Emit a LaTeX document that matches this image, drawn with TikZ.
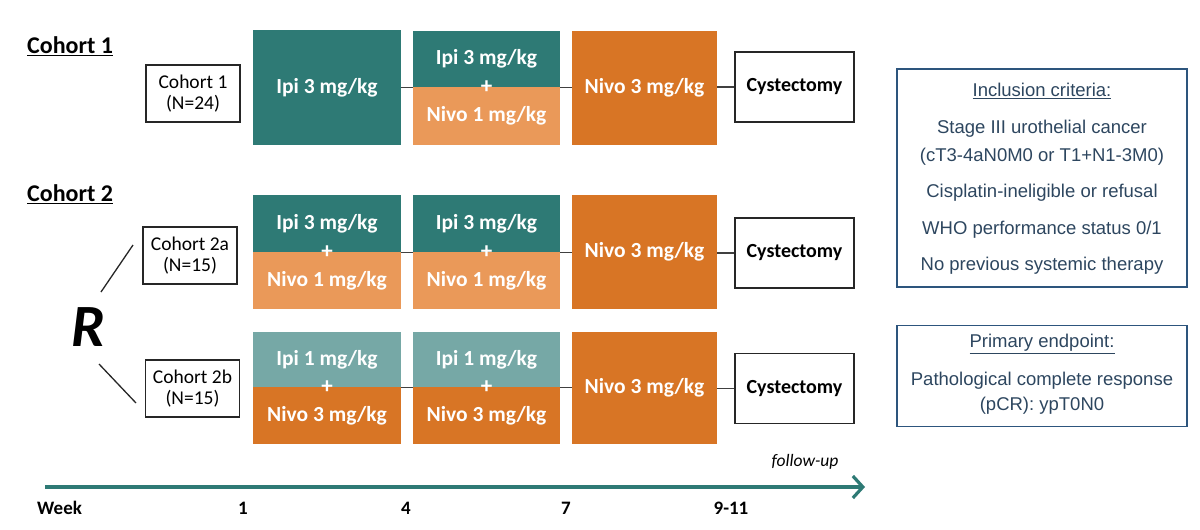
\documentclass[tikz,border=0pt]{standalone}
\usepackage{fontspec}
\setmainfont{Carlito}
\newfontfamily\arialf{Liberation Sans}
\usetikzlibrary{arrows.meta}
\definecolor{tealD}{RGB}{46,122,117}
\definecolor{tealL}{RGB}{118,168,166}
\definecolor{orangeD}{RGB}{216,117,37}
\definecolor{orangeL}{RGB}{234,153,89}
\definecolor{navyb}{RGB}{45,85,125}
\definecolor{infotxt}{RGB}{45,70,95}
\begin{document}
\begin{tikzpicture}[x=1pt,y=-1pt,
  drug/.style={rectangle, inner sep=0pt, text=white, font=\fontsize{21.5}{23}\selectfont\bfseries},
  plus/.style={inner sep=0pt, text=white, font=\fontsize{23}{23}\selectfont\bfseries},
  plainbox/.style={draw=black!85, line width=1.6pt, fill=white, inner sep=0pt, align=center, font=\fontsize{19.5}{21.5}\selectfont},
  cystbox/.style={draw=black!85, line width=1.6pt, fill=white, inner sep=0pt, minimum width=119pt, minimum height=70pt, font=\fontsize{20}{22}\selectfont\bfseries},
  link/.style={line width=1.4pt, draw=black!75},
  heading/.style={inner sep=0pt, font=\fontsize{24}{26}\selectfont\bfseries},
  infobox/.style={draw=navyb, line width=1.8pt, inner sep=0pt},
  infotext/.style={inner sep=0pt, text=infotxt, font=\arialf\fontsize{18.5}{21}\selectfont},
  weekl/.style={inner sep=0pt, font=\fontsize{19}{21}\selectfont\bfseries},
  ]
\useasboundingbox (0,0) rectangle (1200,530);

% headings
\node[heading, anchor=west] (h1) at (27,46) {\underline{Cohort 1}};
\node[heading, anchor=west] (h2) at (27,194) {\underline{Cohort 2}};

% ---------- Row 1 ----------
\node[plainbox, minimum width=94pt, minimum height=57pt] (c1) at (193,93.5) {Cohort 1\\(N=24)};
\node[drug, fill=tealD, minimum width=148pt, minimum height=115pt] (r1a) at (327,87.5) {Ipi 3 mg/kg};
\node[drug, fill=tealD, minimum width=147pt, minimum height=56pt] (r1bt) at (486.5,59) {Ipi 3 mg/kg};
\node[drug, fill=orangeL, minimum width=147pt, minimum height=58pt] (r1bb) at (486.5,116) {Nivo 1 mg/kg};
\node[plus] (p1) at (486.5,87) {+};
\node[drug, fill=orangeD, minimum width=145pt, minimum height=114pt] (r1c) at (644.5,88) {Nivo 3 mg/kg};
\node[cystbox] (r1d) at (794.5,87) {Cystectomy};
\draw[link] (r1a.east |- r1bt.south) -- (r1bt.south west);
\draw[link] (r1bt.south east) -- (r1c.west |- r1bt.south);
\draw[link] (r1c.east |- r1d.west) -- (r1d.west);

% ---------- Row 2 ----------
\node[plainbox, minimum width=94pt, minimum height=57pt] (c2a) at (190,255.5) {Cohort 2a\\(N=15)};
\node[drug, fill=tealD, minimum width=148pt, minimum height=57pt] (r2at) at (327,223.5) {Ipi 3 mg/kg};
\node[drug, fill=orangeL, minimum width=148pt, minimum height=57pt] (r2ab) at (327,280.5) {Nivo 1 mg/kg};
\node[plus] (p2a) at (327,252) {+};
\node[drug, fill=tealD, minimum width=147pt, minimum height=57pt] (r2bt) at (486.5,223.5) {Ipi 3 mg/kg};
\node[drug, fill=orangeL, minimum width=147pt, minimum height=57pt] (r2bb) at (486.5,280.5) {Nivo 1 mg/kg};
\node[plus] (p2b) at (486.5,252) {+};
\node[drug, fill=orangeD, minimum width=145pt, minimum height=114pt] (r2c) at (644.5,252) {Nivo 3 mg/kg};
\node[cystbox] (r2d) at (794.5,253) {Cystectomy};
\draw[link] (r2at.south east) -- (r2bt.south west);
\draw[link] (r2bt.south east) -- (r2c.west |- r2bt.south);
\draw[link] (r2c.east |- r2d.west) -- (r2d.west);

% ---------- Row 3 ----------
\node[plainbox, minimum width=94pt, minimum height=57pt] (c2b) at (192.5,388.5) {Cohort 2b\\(N=15)};
\node[drug, fill=tealL, minimum width=148pt, minimum height=55pt] (r3at) at (327,359.5) {Ipi 1 mg/kg};
\node[drug, fill=orangeD, minimum width=148pt, minimum height=57pt] (r3ab) at (327,415.5) {Nivo 3 mg/kg};
\node[plus] (p3a) at (327,387) {+};
\node[drug, fill=tealL, minimum width=147pt, minimum height=55pt] (r3bt) at (486.5,359.5) {Ipi 1 mg/kg};
\node[drug, fill=orangeD, minimum width=147pt, minimum height=57pt] (r3bb) at (486.5,415.5) {Nivo 3 mg/kg};
\node[plus] (p3b) at (486.5,387) {+};
\node[drug, fill=orangeD, minimum width=145pt, minimum height=112pt] (r3c) at (644.5,388) {Nivo 3 mg/kg};
\node[cystbox] (r3d) at (794.5,388.5) {Cystectomy};
\draw[link] (r3at.south east) -- (r3bt.south west);
\draw[link] (r3bt.south east) -- (r3c.west |- r3bt.south);
\draw[link] (r3c.east |- r3d.west) -- (r3d.west);

% ---------- Randomisation ----------
\node[inner sep=0pt, font=\fontsize{60}{60}\selectfont\bfseries\itshape] (R) at (88,327) {R};
\coordinate (ru) at (101,292);
\coordinate (rd) at (99,364);
\draw[line width=1.3pt, draw=black!85] (ru) -- (133,245) coordinate (rue);
\draw[line width=1.3pt, draw=black!85] (rd) -- (136,403) coordinate (rde);

% ---------- Timeline ----------
\coordinate (t0) at (45,487);
\coordinate (t1) at (865,487);
\draw[tealD, line width=3.4pt, -{Straight Barb[length=10pt, width=22pt, line width=3.2pt]}] (t0) -- (t1);
\node[inner sep=0pt, font=\fontsize{17.5}{19}\selectfont\itshape] (fu) at (805,462) {follow-up};
\node[weekl, anchor=west] (wk) at (37,508) {Week};
\node[weekl] (w1) at (243,508) {1};
\node[weekl] (w4) at (406,508) {4};
\node[weekl] (w7) at (566,508) {7};
\node[weekl] (w911) at (731,508) {9-11};

% ---------- Info boxes ----------
\node[infobox, minimum width=290pt, minimum height=218pt] (inc) at (1042,178) {};
\node[infotext] (inc0) at (1042,91) {\underline{Inclusion criteria:}};
\node[infotext] (inc1) at (1042,129) {Stage III urothelial cancer};
\node[infotext] (inc2) at (1042,157) {(cT3-4aN0M0 or T1+N1-3M0)};
\node[infotext] (inc3) at (1042,193) {Cisplatin-ineligible or refusal};
\node[infotext] (inc4) at (1042,230) {WHO performance status 0/1};
\node[infotext] (inc5) at (1042,266) {No previous systemic therapy};

\node[infobox, minimum width=290pt, minimum height=101pt] (pe) at (1042,376) {};
\node[infotext] (pe0) at (1042,344) {\underline{Primary endpoint:}};
\node[infotext] (pe1) at (1042,381) {Pathological complete response};
\node[infotext] (pe2) at (1042,406) {(pCR): ypT0N0};
\end{tikzpicture}
\end{document}
